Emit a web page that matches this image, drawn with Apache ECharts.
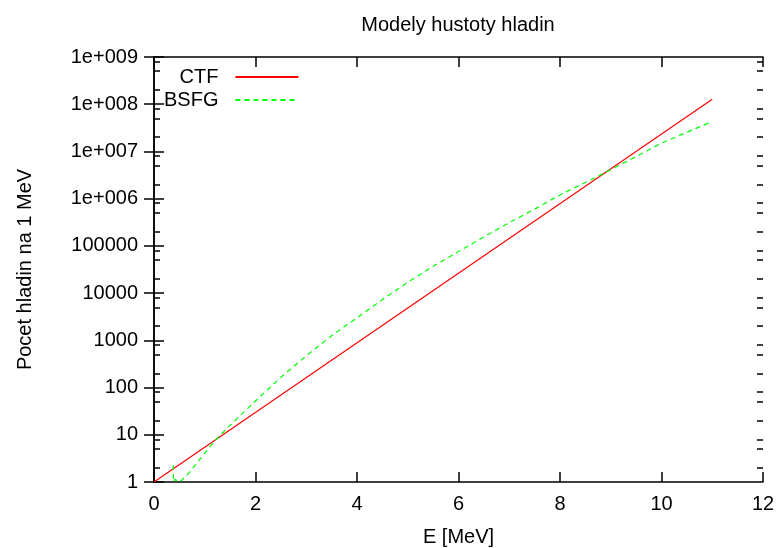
<!DOCTYPE html>
<html><head><meta charset="utf-8">
<script src="https://cdn.jsdelivr.net/npm/echarts@6/dist/echarts.min.js"></script>
<style>html,body{margin:0;padding:0;background:#fff}#c{width:778px;height:548px}</style>
</head><body><div id="c"></div>
<script>
const chartTitle = 'Modely hustoty hladin';
const xName = 'E [MeV]';
const yName = 'Pocet hladin na 1 MeV';
const seriesNames = ['CTF', 'BSFG'];
const yTickValues = [1, 10, 100, 1000, 1e4, 1e5, 1e6, 1e7, 1e8, 1e9];
const yTickLabels = ['1', '10', '100', '1000', '10000', '100000', '1e+006', '1e+007', '1e+008', '1e+009'];
const yMinorTicks = [2, 5, 8, 20, 50, 80, 200, 500, 800, 2000, 5000, 8000, 2e4, 5e4, 8e4,
  2e5, 5e5, 8e5, 2e6, 5e6, 8e6, 2e7, 5e7, 8e7, 2e8, 5e8, 8e8];
const ctfE = [0, 11];
const ctfV = [1, 1.28e8];
const bsfgE = [0.38, 0.385, 0.42, 0.46, 0.55, 0.7, 0.9, 1.2, 1.5, 2, 2.5, 3, 3.5, 4, 4.5, 5, 5.5, 6, 6.5, 7, 7.5, 8, 8.5, 9, 9.5, 10, 10.5, 11];
const bsfgV = [2.3, 1.0, 1.15, 1.0, 1.1, 1.6, 3.0, 7.5, 16, 52, 165, 470, 1250, 3000, 7300, 17000, 37000, 76000, 155000, 310000, 600000, 1.2e6, 2.2e6, 4.1e6, 7.8e6, 1.5e7, 2.55e7, 4.3e7];

const FONT = '"Liberation Sans", Arial, sans-serif';
const FS = 20;
const black = '#000';

const chart = echarts.init(document.getElementById('c'), null, {renderer: 'canvas'});

function logBase(pos) {
  return {
    type: 'log', logBase: 10, min: 1, max: 1e9, position: pos,
    axisLine: {show: false},
    axisTick: {show: false},
    axisLabel: {show: false},
    splitLine: {show: false},
    minorTick: {show: false}
  };
}
function majorY(pos) {
  const a = logBase(pos);
  a.axisLine = {show: true, lineStyle: {color: black, width: 1.5}};
  a.axisTick = {show: true, inside: true, length: 10, lineStyle: {color: black, width: 1.5}, customValues: yTickValues};
  return a;
}
function minorY(pos) {
  const a = logBase(pos);
  a.axisTick = {show: true, inside: true, length: 6, lineStyle: {color: black, width: 1.5}, customValues: yMinorTicks};
  return a;
}
function labelY() {
  const a = logBase('left');
  a.axisLabel = {
    show: true, color: black, fontSize: FS, fontFamily: FONT, margin: 16,
    customValues: yTickValues,
    formatter: v => yTickLabels[Math.round(Math.log10(v))]
  };
  a.name = yName;
  a.nameLocation = 'middle';
  a.nameGap = 119;
  a.nameRotate = 90;
  a.nameTextStyle = {color: black, fontSize: FS, fontFamily: FONT};
  return a;
}
function xAx(pos, withLabels) {
  return {
    type: 'value', min: 0, max: 12, interval: 2, position: pos,
    axisLine: {show: true, onZero: false, lineStyle: {color: black, width: 1.5}},
    axisTick: {show: true, inside: true, length: 10, lineStyle: {color: black, width: 1.5}},
    axisLabel: withLabels ? {show: true, color: black, fontSize: FS, fontFamily: FONT, margin: 12} : {show: false},
    splitLine: {show: false}
  };
}

const xMain = xAx('bottom', true);
xMain.name = xName;
xMain.nameLocation = 'middle';
xMain.nameGap = 45;
xMain.nameTextStyle = {color: black, fontSize: FS, fontFamily: FONT};

const option = {
  animation: false,
  backgroundColor: '#fff',
  title: {
    text: chartTitle, left: 453, top: 10, textAlign: 'center',
    textStyle: {color: black, fontSize: FS, fontWeight: 'normal', fontFamily: FONT}
  },
  grid: {left: 154, right: 15, top: 57, bottom: 66, containLabel: false, outerBoundsMode: 'none'},
  legend: {
    orient: 'vertical', align: 'right', left: 164, top: 67, padding: 0,
    itemWidth: 63, itemHeight: 14, itemGap: 3,
    itemStyle: {opacity: 0},
    textStyle: {color: black, fontSize: FS, fontFamily: FONT, lineHeight: 20, padding: [0, 12, 0, 0]},
    data: seriesNames
  },
  xAxis: [xMain, xAx('top', false)],
  yAxis: [majorY('left'), majorY('right'), minorY('left'), minorY('right'), labelY()],
  series: [
    {
      name: seriesNames[0], type: 'line', xAxisIndex: 0, yAxisIndex: 0,
      data: ctfE.map((e, i) => [e, ctfV[i]]),
      symbol: 'none', clip: true,
      lineStyle: {color: '#ff0000', width: 1.2},
      itemStyle: {color: '#ff0000'}
    },
    {
      name: seriesNames[1], type: 'line', xAxisIndex: 0, yAxisIndex: 0,
      data: bsfgE.map((e, i) => [e, bsfgV[i]]),
      symbol: 'none', clip: true, smooth: false,
      lineStyle: {color: '#00ff00', width: 1.2, type: [5, 4]},
      itemStyle: {color: '#00ff00'}
    }
  ]
};
chart.setOption(option);
</script>
</body></html>
